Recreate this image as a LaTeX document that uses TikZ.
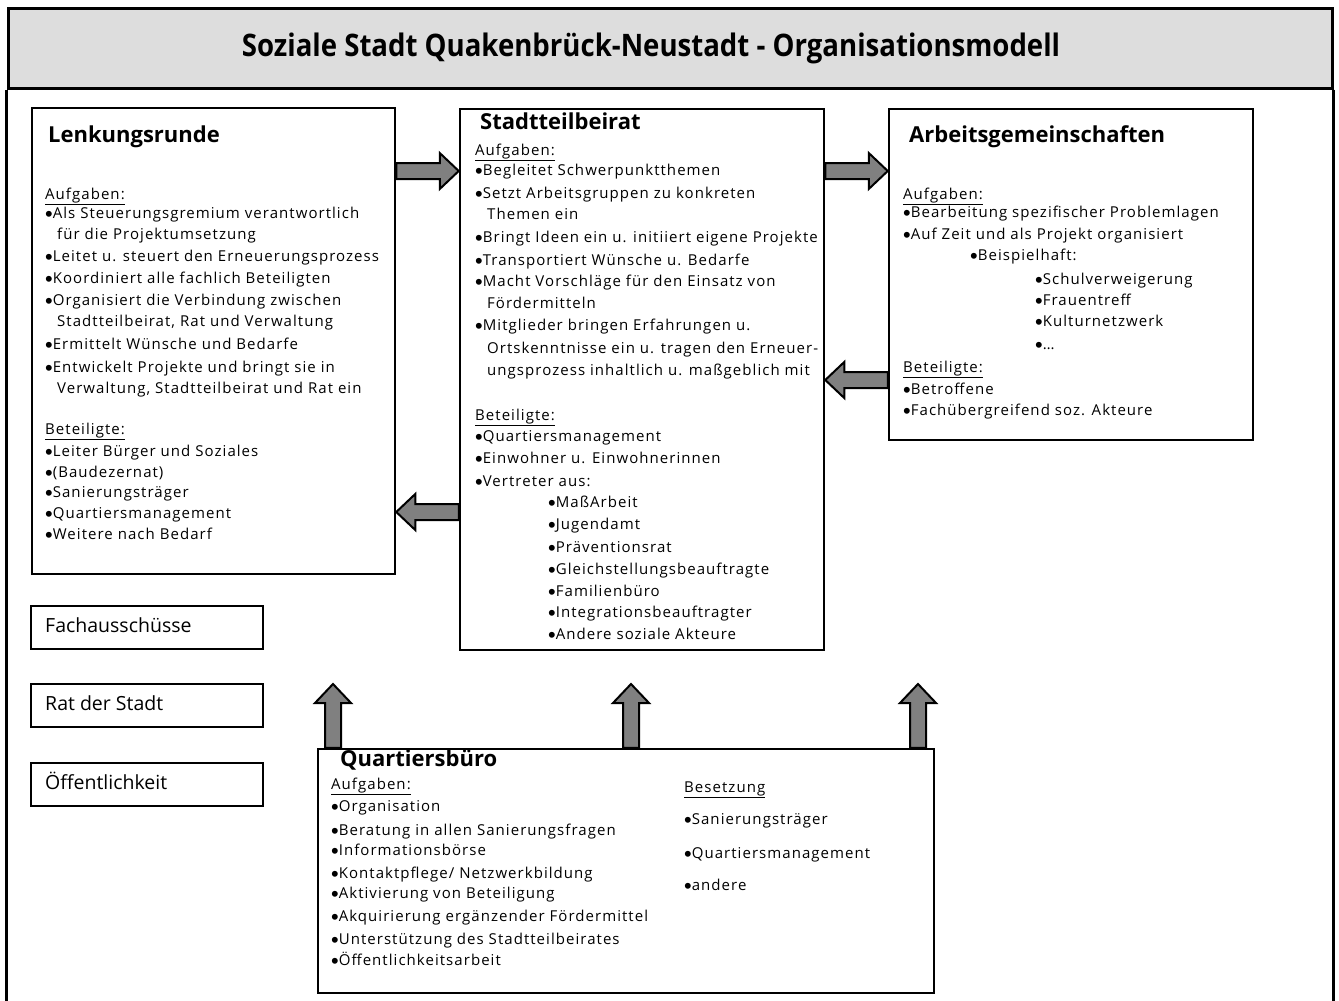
\documentclass[tikz,border=0pt]{standalone}
\usepackage{fontspec}
\setmainfont{Open Sans}
\newfontfamily\bodyfont{Open Sans}[LetterSpace=7]
\newfontfamily\bulfont{Liberation Sans}
\newcommand\bl{{\bulfont\raisebox{-2.6pt}{\scalebox{1.45}{•}}}}
\usetikzlibrary{calc}
\definecolor{bandgray}{HTML}{DDDDDD}
\definecolor{arrowgray}{HTML}{808080}
\tikzset{
  box/.style={draw=black, line width=2.5pt, fill=white, rectangle, inner sep=0pt},
  txt/.style={anchor=mid west, inner sep=0pt, font=\bodyfont\fontsize{15}{18}\selectfont},
  ttl/.style={anchor=mid west, inner sep=0pt, font=\fontsize{22}{24}\selectfont\bfseries},
  smalltxt/.style={anchor=mid west, inner sep=0pt, font=\fontsize{19.5}{22}\selectfont},
  barrow/.style={draw=black, line width=2pt, fill=arrowgray, line join=miter},
}
\newcommand\blockarrow[3]{%
  \coordinate (#1t) at (#2);
  \coordinate (#1p) at (#3);
  \coordinate (#1h) at ($(#1p)!19pt!(#1t)$);
  \draw[barrow] ($(#1t)!8pt!90:(#1p)$) -- ($(#1h)!8pt!-90:(#1t)$) -- ($(#1h)!18pt!-90:(#1t)$)
    -- (#1p) -- ($(#1h)!18pt!90:(#1t)$) -- ($(#1h)!8pt!90:(#1t)$) -- ($(#1t)!8pt!-90:(#1p)$) -- cycle;}
\begin{document}
\begin{tikzpicture}[x=1pt,y=-1pt]
\useasboundingbox (0,0) rectangle (1339,1001);
\fill[white] (0,0) rectangle (1339,1001);
% frame and title band
\node[draw=black, line width=3pt, fill=bandgray, minimum width=1324pt, minimum height=80pt, inner sep=0pt] (band) at (670,48) {};
\draw[line width=3pt] (band.south west) -- (band.south west |- 0,1010);
\draw[line width=3pt] (band.south east) -- (band.south east |- 0,1010);
\node[font=\fontsize{31}{33}\selectfont\bfseries, inner sep=0pt] (title) at (651,48) {\scalebox{0.89}[1]{Soziale Stadt Quakenbrück-Neustadt - Organisationsmodell}};

% boxes
\node[box, minimum width=363pt, minimum height=466pt] (lenk) at (213.5,341) {};
\node[box, minimum width=364pt, minimum height=541pt] (stb) at (642,379.5) {};
\node[box, minimum width=364pt, minimum height=331pt] (arb) at (1071,274.5) {};
\node[box, minimum width=616pt, minimum height=244pt] (quart) at (626,871) {};
\node[box, minimum width=232pt, minimum height=43pt] (fach) at (147,627.5) {};
\node[box, minimum width=232pt, minimum height=43pt] (rat) at (147,705.5) {};
\node[box, minimum width=232pt, minimum height=43pt] (oeff) at (147,784.5) {};

\node[smalltxt] (fachT) at (45,630) {Fachausschüsse};
\node[smalltxt] (ratT) at (45,708) {Rat der Stadt};
\node[smalltxt] (oeffT) at (45,787) {Öffentlichkeit};

% arrows
\blockarrow{a1}{lenk.east |- 0,171}{stb.west |- 0,171}
\blockarrow{a2}{stb.east |- 0,171}{arb.west |- 0,171}
\blockarrow{a3}{arb.west |- 0,380}{stb.east |- 0,380}
\blockarrow{a4}{stb.west |- 0,512}{lenk.east |- 0,512}
\blockarrow{u1}{quart.north -| 333,0}{333,684}
\blockarrow{u2}{quart.north -| 631,0}{631,684}
\blockarrow{u3}{quart.north -| 918,0}{918,684}

% Lenkungsrunde
\node[ttl] (lenkT) at (48,140) {Lenkungsrunde};
\foreach \y/\x/\t [count=\i] in {
  197/45/{\underline{Aufgaben:}},
  216/45/{\bl Als Steuerungsgremium verantwortlich},
  237/57/{für die Projektumsetzung},
  259/45/{\bl Leitet u. steuert den Erneuerungsprozess},
  281/45/{\bl Koordiniert alle fachlich Beteiligten},
  303/45/{\bl Organisiert die Verbindung zwischen},
  324/57/{Stadtteilbeirat, Rat und Verwaltung},
  347/45/{\bl Ermittelt Wünsche und Bedarfe},
  370/45/{\bl Entwickelt Projekte und bringt sie in},
  391/57/{Verwaltung, Stadtteilbeirat und Rat ein},
  432/45/{\underline{Beteiligte:}},
  454/45/{\bl Leiter Bürger und Soziales},
  475/45/{\bl (Baudezernat)},
  495/45/{\bl Sanierungsträger},
  516/45/{\bl Quartiersmanagement},
  537/45/{\bl Weitere nach Bedarf}}
  \node[txt] (lk\i) at (\x,\y) {\t};

% Stadtteilbeirat
\node[ttl] (stbT) at (480,127) {Stadtteilbeirat};
\begin{scope}
\clip ($(stb.north west)+(0,2)$) rectangle ($(stb.south east)+(-2,-2)$);
\foreach \y/\x/\t [count=\i] in {
  153/475/{\underline{Aufgaben:}},
  173/475/{\bl Begleitet Schwerpunktthemen},
  196/475/{\bl Setzt Arbeitsgruppen zu konkreten},
  217/487/{Themen ein},
  240/475/{\bl Bringt Ideen ein u. initiiert eigene Projekte},
  263/475/{\bl Transportiert Wünsche u. Bedarfe},
  284/475/{\bl Macht Vorschläge für den Einsatz von},
  306/487/{Fördermitteln},
  328/475/{\bl Mitglieder bringen Erfahrungen u.},
  351/487/{Ortskenntnisse ein u. tragen den Erneuer-},
  373/487/{ungsprozess inhaltlich u. maßgeblich mit},
  418/475/{\underline{Beteiligte:}},
  439/475/{\bl Quartiersmanagement},
  461/475/{\bl Einwohner u. Einwohnerinnen},
  484/475/{\bl Vertreter aus:},
  505/548/{\bl MaßArbeit},
  527/548/{\bl Jugendamt},
  550/548/{\bl Präventionsrat},
  572/548/{\bl Gleichstellungsbeauftragte},
  594/548/{\bl Familienbüro},
  615/548/{\bl Integrationsbeauftragter},
  637/548/{\bl Andere soziale Akteure}}
  \node[txt] (sb\i) at (\x,\y) {\t};
\end{scope}

% Arbeitsgemeinschaften
\node[ttl] (arbT) at (909,140) {Arbeitsgemeinschaften};
\foreach \y/\x/\t [count=\i] in {
  197/903/{\underline{Aufgaben:}},
  215/903/{\bl Bearbeitung spezifischer Problemlagen},
  237/903/{\bl Auf Zeit und als Projekt organisiert},
  258/970/{\bl Beispielhaft:},
  282/1035/{\bl Schulverweigerung},
  303/1035/{\bl Frauentreff},
  324/1035/{\bl Kulturnetzwerk},
  347/1035/{\bl …},
  370/903/{\underline{Beteiligte:}},
  392/903/{\bl Betroffene},
  413/903/{\bl Fachübergreifend soz. Akteure}}
  \node[txt] (ag\i) at (\x,\y) {\t};

% Quartiersbuero
\node[ttl] (quartT) at (340,764) {Quartiersbüro};
\foreach \y/\x/\t [count=\i] in {
  787/331/{\underline{Aufgaben:}},
  809/331/{\bl Organisation},
  833/331/{\bl Beratung in allen Sanierungsfragen},
  853/331/{\bl Informationsbörse},
  876/331/{\bl Kontaktpflege\slash{} Netzwerkbildung},
  896/331/{\bl Aktivierung von Beteiligung},
  919/331/{\bl Akquirierung ergänzender Fördermittel},
  942/331/{\bl Unterstützung des Stadtteilbeirates},
  963/331/{\bl Öffentlichkeitsarbeit},
  790/684/{\underline{Besetzung}},
  822/684/{\bl Sanierungsträger},
  856/684/{\bl Quartiersmanagement},
  888/684/{\bl andere}}
  \node[txt] (qb\i) at (\x,\y) {\t};
\end{tikzpicture}
\end{document}
